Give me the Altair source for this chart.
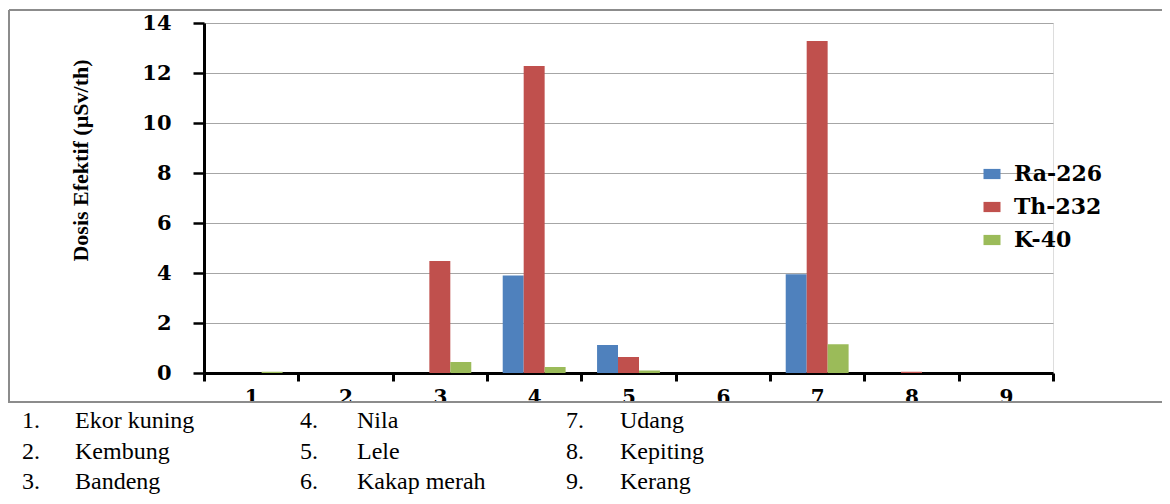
import altair as alt
import pandas as pd

# ---- data ----
categories = ["1", "2", "3", "4", "5", "6", "7", "8", "9"]
series = ["Ra-226", "Th-232", "K-40"]
ra226 = [0, 0, 0, 3.90, 1.12, 0, 3.95, 0, 0]
th232 = [0, 0, 4.48, 12.28, 0.64, 0, 13.28, 0.05, 0]
k40 = [0.05, 0, 0.44, 0.24, 0.10, 0, 1.15, 0, 0]
colors = ["#4F81BD", "#C0504D", "#9BBB59"]
y_ticks = [0, 2, 4, 6, 8, 10, 12, 14]
fish_numbers = ["1.", "2.", "3.", "4.", "5.", "6.", "7.", "8.", "9."]
fish_names = ["Ekor kuning", "Kembung", "Bandeng", "Nila", "Lele",
              "Kakap merah", "Udang", "Kepiting", "Kerang"]

rows = []
for s, vals in zip(series, [ra226, th232, k40]):
    for c, v in zip(categories, vals):
        rows.append({"cat": c, "series": s, "value": v})
df = pd.DataFrame(rows)

# key list below the chart (three columns of three)
col_num_x = [-182, 96, 362]
col_name_x = [-129, 153, 416]
row_y = [398, 429, 459]
key_rows = []
for i, (n, nm) in enumerate(zip(fish_numbers, fish_names)):
    c, r = i // 3, i % 3
    key_rows.append({"txt": n, "px": col_num_x[c], "py": row_y[r]})
    key_rows.append({"txt": nm, "px": col_name_x[c], "py": row_y[r]})
key_df = pd.DataFrame(key_rows)

W, H = 849, 350
LBL = "DejaVu Serif"

bars = alt.Chart(df).mark_bar().encode(
    x=alt.X("cat:N", sort=categories, title=None,
            scale=alt.Scale(paddingInner=0, paddingOuter=0),
            axis=alt.Axis(tickBand="extent", grid=False, labelAngle=0,
                          domainColor="black", domainWidth=3,
                          tickColor="black", tickWidth=3, tickSize=8,
                          labelFont=LBL, labelFontWeight="bold", labelFontSize=20,
                          labelColor="black", labelPadding=6, zindex=0)),
    xOffset=alt.XOffset("series:N", sort=series,
                        scale=alt.Scale(paddingOuter=0.75, paddingInner=0)),
    y=alt.Y("value:Q", title="Dosis Efektif (µSv/th)",
            scale=alt.Scale(domain=[0, 14], nice=False),
            axis=alt.Axis(values=y_ticks, grid=True, gridColor="#a6a6a6", gridWidth=1,
                          domainColor="black", domainWidth=3,
                          tickColor="black", tickWidth=2.5, tickSize=11,
                          labelFont=LBL, labelFontWeight="bold", labelFontSize=21,
                          labelColor="black", labelPadding=22,
                          titleFont="Liberation Serif", titleFontWeight="bold",
                          titleFontSize=22, titleColor="black", titleAngle=270,
                          titleX=-124, titleY=137, titleAlign="center",
                          titleBaseline="middle")),
    color=alt.Color("series:N", sort=series,
                    scale=alt.Scale(domain=series, range=colors),
                    legend=alt.Legend(title=None, orient="none", legendX=777, legendY=140,
                                      padding=0, symbolType="M-1,-0.6H1V0.6H-1Z",
                                      symbolSize=289, symbolStrokeWidth=0,
                                      labelFont=LBL, labelFontWeight="bold",
                                      labelFontSize=22, labelColor="black",
                                      labelOffset=11, rowPadding=11)),
)

# white strip hiding lower part of the x labels (as in the cropped figure)
cover = alt.Chart(pd.DataFrame({"a": [0]})).mark_rect(color="white").encode(
    x=alt.value(-5), x2=alt.value(880), y=alt.value(380), y2=alt.value(386))

frame_color = "#8c8c8c"
frame_top = alt.Chart(pd.DataFrame({"a": [0]})).mark_rule(color=frame_color, strokeWidth=2).encode(
    x=alt.value(-195), x2=alt.value(960), y=alt.value(-13))
frame_left = alt.Chart(pd.DataFrame({"a": [0]})).mark_rule(color=frame_color, strokeWidth=2).encode(
    x=alt.value(-195), y=alt.value(-13), y2=alt.value(379))
frame_bottom = alt.Chart(pd.DataFrame({"a": [0]})).mark_rule(color=frame_color, strokeWidth=2).encode(
    x=alt.value(-204), x2=alt.value(960), y=alt.value(379))

key = alt.Chart(key_df).mark_text(
    align="left", baseline="middle", font="Liberation Serif", fontSize=24, color="black"
).encode(
    x=alt.X("px:Q", scale=None, axis=None),
    y=alt.Y("py:Q", scale=None, axis=None),
    text="txt:N",
)

chart = alt.layer(bars, cover, frame_top, frame_left, frame_bottom, key).resolve_scale(
    x="independent", y="independent"
).properties(
    width=W, height=H,
    autosize=alt.AutoSizeParams(type="none"),
    padding={"left": 196, "top": 15, "right": 109, "bottom": 123},
).configure_view(stroke=None).configure(background="white")

chart.save("out.html", embed_options={"renderer": "svg", "actions": False})
